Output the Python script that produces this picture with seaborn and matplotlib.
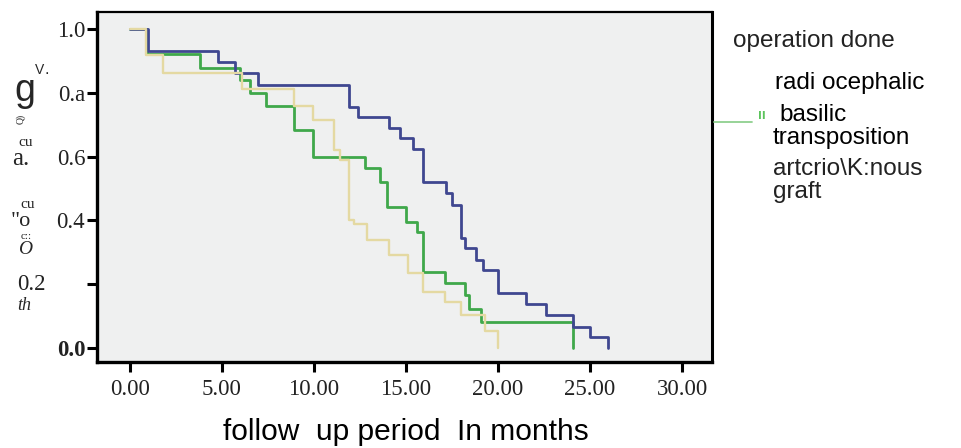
import matplotlib
matplotlib.use("Agg")
import matplotlib.pyplot as plt
from matplotlib.lines import Line2D
import seaborn as sns
import pandas as pd

# ---- data ----
groups = ["radi ocephalic", "basilic transposition", "artcrio\\K:nous graft"]

radio_time = [0, 0.98, 4.8, 5.7, 6.97, 11.9, 12.4, 14.1, 14.7, 15.4, 15.9, 17.2,
              17.5, 18.0, 18.2, 18.8, 19.2, 20.0, 21.5, 22.6, 24.1, 25.0, 26.0]
radio_surv = [1.0, 0.932, 0.897, 0.862, 0.824, 0.756, 0.723, 0.689, 0.657, 0.623,
              0.521, 0.485, 0.448, 0.344, 0.313, 0.277, 0.243, 0.173, 0.138, 0.103,
              0.067, 0.034, 0.0]

basilic_time = [0, 0.95, 3.8, 6.0, 6.5, 7.4, 8.9, 9.96, 12.8, 13.6, 13.95, 15.0,
                15.6, 15.9, 17.1, 18.2, 18.45, 19.1, 24.05]
basilic_surv = [1.0, 0.920, 0.879, 0.840, 0.800, 0.757, 0.683, 0.598, 0.563, 0.521,
                0.443, 0.396, 0.363, 0.239, 0.205, 0.166, 0.121, 0.082, 0.0]

graft_time = [0, 0.85, 1.8, 6.1, 8.9, 9.96, 11.1, 11.4, 11.9, 12.2, 12.9, 14.1,
              15.1, 15.9, 17.1, 18.0, 19.3, 20.0]
graft_surv = [1.0, 0.918, 0.862, 0.811, 0.757, 0.715, 0.620, 0.590, 0.400, 0.390,
              0.339, 0.290, 0.235, 0.176, 0.145, 0.103, 0.052, 0.0]

x_ticks = [0, 5, 10, 15, 20, 25, 30]
x_ticklabels = ["0.00", "5.00", "10.00", "15.00", "20.00", "25.00", "30.00"]
y_ticks = [0.0, 0.2, 0.4, 0.6, 0.8, 1.0]
y_ticklabels = ["0.0", "", "0.4", "0.6", "0.a", "1.0"]

colors = {"radi ocephalic": "#3f4790",
          "basilic transposition": "#3fa84a",
          "artcrio\\K:nous graft": "#e4d9a2"}
widths = {"radi ocephalic": 2.0, "basilic transposition": 2.0,
          "artcrio\\K:nous graft": 1.7}

frames = []
for g, t, s in [(groups[1], basilic_time, basilic_surv),
                (groups[0], radio_time, radio_surv),
                (groups[2], graft_time, graft_surv)]:
    frames.append(pd.DataFrame({"time": t, "surv": s, "group": g}))

# ---- figure ----
sns.set_style("ticks")
W, H = 962, 448
fig = plt.figure(figsize=(W / 100, H / 100), dpi=100)
fig.patch.set_facecolor("white")

def fx(x):
    return x / W

def fy(y):
    return 1 - y / H

ax = fig.add_axes([fx(97), fy(362), (712 - 97) / W, (362 - 12) / H])
ax.set_facecolor("#eff0f0")

for df in frames:
    g = df["group"].iloc[0]
    sns.lineplot(data=df, x="time", y="surv", drawstyle="steps-post",
                 estimator=None, sort=False, color=colors[g],
                 linewidth=widths[g], legend=False, ax=ax)

ax.set_xlim(-1.79, 31.63)
ax.set_ylim(-0.044, 1.053)
ax.set_xlabel("")
ax.set_ylabel("")

serif = "Liberation Serif"
sans = "Liberation Sans"

ax.set_xticks(x_ticks)
ax.set_xticklabels(x_ticklabels, fontsize=16.5, family=serif, color="#222222")
ax.set_yticks(y_ticks)
ax.set_yticklabels(y_ticklabels, fontsize=16.5, family=serif, color="#222222")
ax.get_yticklabels()[0].set_fontweight("bold")
ax.tick_params(axis="x", direction="out", length=7, width=2.2, pad=5, color="black")
ax.tick_params(axis="y", direction="out", length=7, width=2.2, pad=1.5, color="black")

for side, lw in [("left", 2.4), ("bottom", 2.4), ("top", 1.6), ("right", 2.2)]:
    ax.spines[side].set_visible(True)
    ax.spines[side].set_linewidth(lw)
    ax.spines[side].set_color("black")

# x axis title
fig.text(fx(406), fy(440), "follow  up period  In months", fontsize=21.5,
         family=sans, ha="center", va="baseline", color="black")

# garbled y-axis title fragments and misplaced 0.2 label
fig.text(fx(35), fy(74), "V", fontsize=10, family=sans, ha="left", va="baseline")
fig.text(fx(44), fy(74), ".", fontsize=12, family=sans, ha="left", va="baseline")
fig.text(fx(14), fy(101), "g", fontsize=27, family=sans, ha="left", va="baseline")
fig.text(fx(21), fy(119), "Q)", fontsize=7, family=serif, ha="center", va="center",
         rotation=90)
fig.text(fx(18), fy(146), "cu", fontsize=11, family=serif, ha="left", va="baseline")
fig.text(fx(12), fy(165), "a.", fontsize=18, family=serif, ha="left", va="baseline")
fig.text(fx(20), fy(208), "cu", fontsize=11, family=serif, ha="left", va="baseline")
fig.text(fx(11), fy(226), "\"o", fontsize=16, family=serif, ha="left", va="baseline")
fig.text(fx(21), fy(239), "c::", fontsize=8, family=serif, ha="left", va="baseline")
fig.text(fx(18), fy(254), "O", fontsize=14, family=serif, style="italic",
         ha="left", va="baseline")
fig.text(fx(17), fy(290), "0.2", fontsize=16.5, family=serif, ha="left",
         va="baseline", color="#222222")
fig.text(fx(17), fy(310), "th", fontsize=13, family=serif, style="italic",
         ha="left", va="baseline")

# legend
fs_leg = 17.5
fig.text(fx(733), fy(47), "operation done", fontsize=fs_leg, family=sans,
         ha="left", va="baseline", color="#222222")
fig.text(fx(775), fy(89), "radi ocephalic", fontsize=fs_leg, family=sans,
         ha="left", va="baseline", color="black")
fig.text(fx(758), fy(119), "ıı", fontsize=10, family=sans, fontweight="bold",
         ha="left", va="baseline", color="#5cc45c")
fig.text(fx(779), fy(121), "basilic", fontsize=fs_leg, family=sans,
         ha="left", va="baseline", color="black")
fig.text(fx(773), fy(144), "transposition", fontsize=fs_leg, family=sans,
         ha="left", va="baseline", color="black")
fig.text(fx(773), fy(175), "artcrio\\K:nous", fontsize=fs_leg, family=sans,
         ha="left", va="baseline", color="#222222")
fig.text(fx(773), fy(198), "graft", fontsize=fs_leg, family=sans,
         ha="left", va="baseline", color="#222222")
fig.add_artist(Line2D([fx(714), fx(752)], [fy(122), fy(122)], color="#8fd08f",
                      linewidth=1.3, transform=fig.transFigure))

fig.savefig("out.png", dpi=100, facecolor="white")
